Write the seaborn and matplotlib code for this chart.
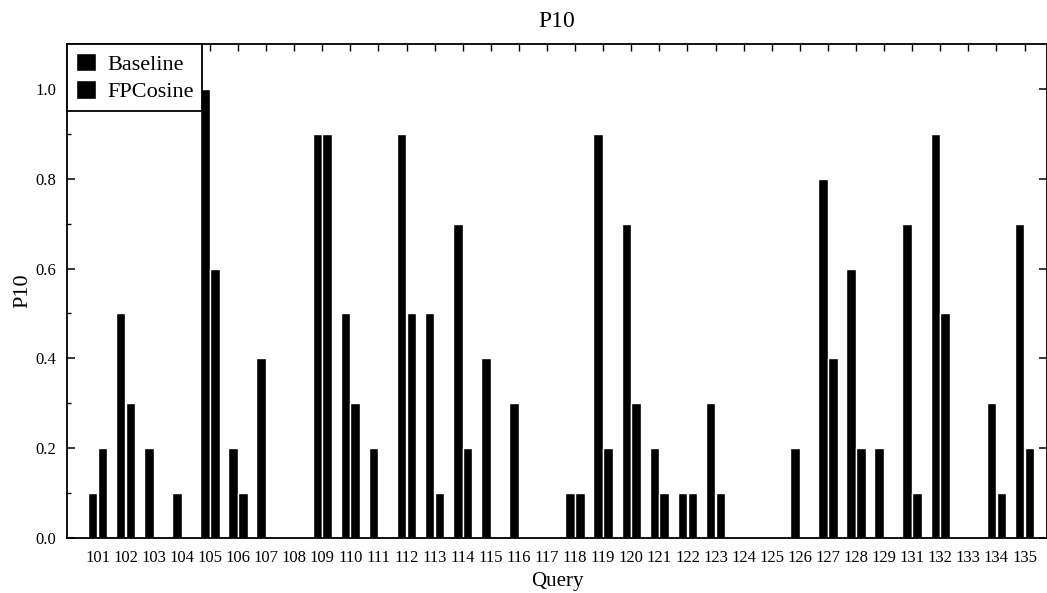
import numpy as np
import pandas as pd
import matplotlib
matplotlib.use("Agg")
import matplotlib.pyplot as plt
import seaborn as sns
from matplotlib.ticker import MultipleLocator, FormatStrFormatter

queries = ['101', '102', '103', '104', '105', '106', '107', '108', '109', '110',
           '111', '112', '113', '114', '115', '116', '117', '118', '119', '120',
           '121', '122', '123', '124', '125', '126', '127', '128', '129', '131',
           '132', '133', '134', '135']
baseline = [0.1, 0.5, 0.2, 0.1, 1.0, 0.2, 0.4, 0.0, 0.9, 0.5,
            0.2, 0.9, 0.5, 0.7, 0.4, 0.3, 0.0, 0.1, 0.9, 0.7,
            0.2, 0.1, 0.3, 0.0, 0.0, 0.2, 0.8, 0.6, 0.2, 0.7,
            0.9, 0.0, 0.3, 0.7]
fpcosine = [0.2, 0.3, 0.0, 0.0, 0.6, 0.1, 0.0, 0.0, 0.9, 0.3,
            0.0, 0.5, 0.1, 0.2, 0.0, 0.0, 0.0, 0.1, 0.2, 0.3,
            0.1, 0.1, 0.1, 0.0, 0.0, 0.0, 0.4, 0.2, 0.0, 0.1,
            0.5, 0.0, 0.1, 0.2]
series_names = ['Baseline', 'FPCosine']
yticks = [0.0, 0.2, 0.4, 0.6, 0.8, 1.0]

n = len(queries)
df = pd.DataFrame({
    'Query': queries * 2,
    'P10': baseline + fpcosine,
    'Method': [series_names[0]] * n + [series_names[1]] * n,
})

sns.set_theme(style="ticks")
plt.rcParams['font.family'] = ['Liberation Serif', 'DejaVu Serif']
plt.rcParams['text.color'] = 'black'
plt.rcParams['axes.labelcolor'] = 'black'
plt.rcParams['xtick.color'] = 'black'
plt.rcParams['ytick.color'] = 'black'

fig = plt.figure(figsize=(10.47, 5.93), dpi=100)
ax = fig.add_axes([67 / 1047, 1 - 538 / 593, (1047 - 67) / 1047, (538 - 44) / 593])

sns.barplot(data=df, x='Query', y='P10', hue='Method', order=queries,
            hue_order=series_names, palette=['black', 'black'], saturation=1,
            width=0.7, gap=0.03, ax=ax, errorbar=None)

ax.set_xlim(-1.086, 33.8)
ax.set_ylim(0, 1.1)
ax.set_yticks(yticks)
ax.yaxis.set_major_formatter(FormatStrFormatter('%.1f'))
ax.yaxis.set_minor_locator(MultipleLocator(0.1))

for s in ax.spines.values():
    s.set_visible(True)
    s.set_color('black')
    s.set_linewidth(1.3)

ax.tick_params(axis='y', which='major', direction='in', length=6, width=1.1,
               left=True, right=True, labelsize=12, pad=8, colors='black')
ax.tick_params(axis='y', which='minor', direction='in', length=3, width=1.0,
               left=True, right=False)
ax.tick_params(axis='x', which='major', direction='in', length=5, width=1.0,
               bottom=False, top=True, labelsize=12, pad=9, colors='black')

ax.set_title('P10', fontsize=17, pad=12)
ax.set_xlabel('Query', fontsize=15, labelpad=4)
ax.set_ylabel('P10', fontsize=16, labelpad=2)

leg = ax.legend(loc='upper left', borderaxespad=0, fancybox=False,
                edgecolor='black', framealpha=1, fontsize=16,
                handlelength=0.9, handleheight=0.9, borderpad=0.4,
                labelspacing=0.25, handletextpad=0.5, title=None)
leg.get_frame().set_linewidth(1.3)

fig.savefig('out.png', dpi=100)
